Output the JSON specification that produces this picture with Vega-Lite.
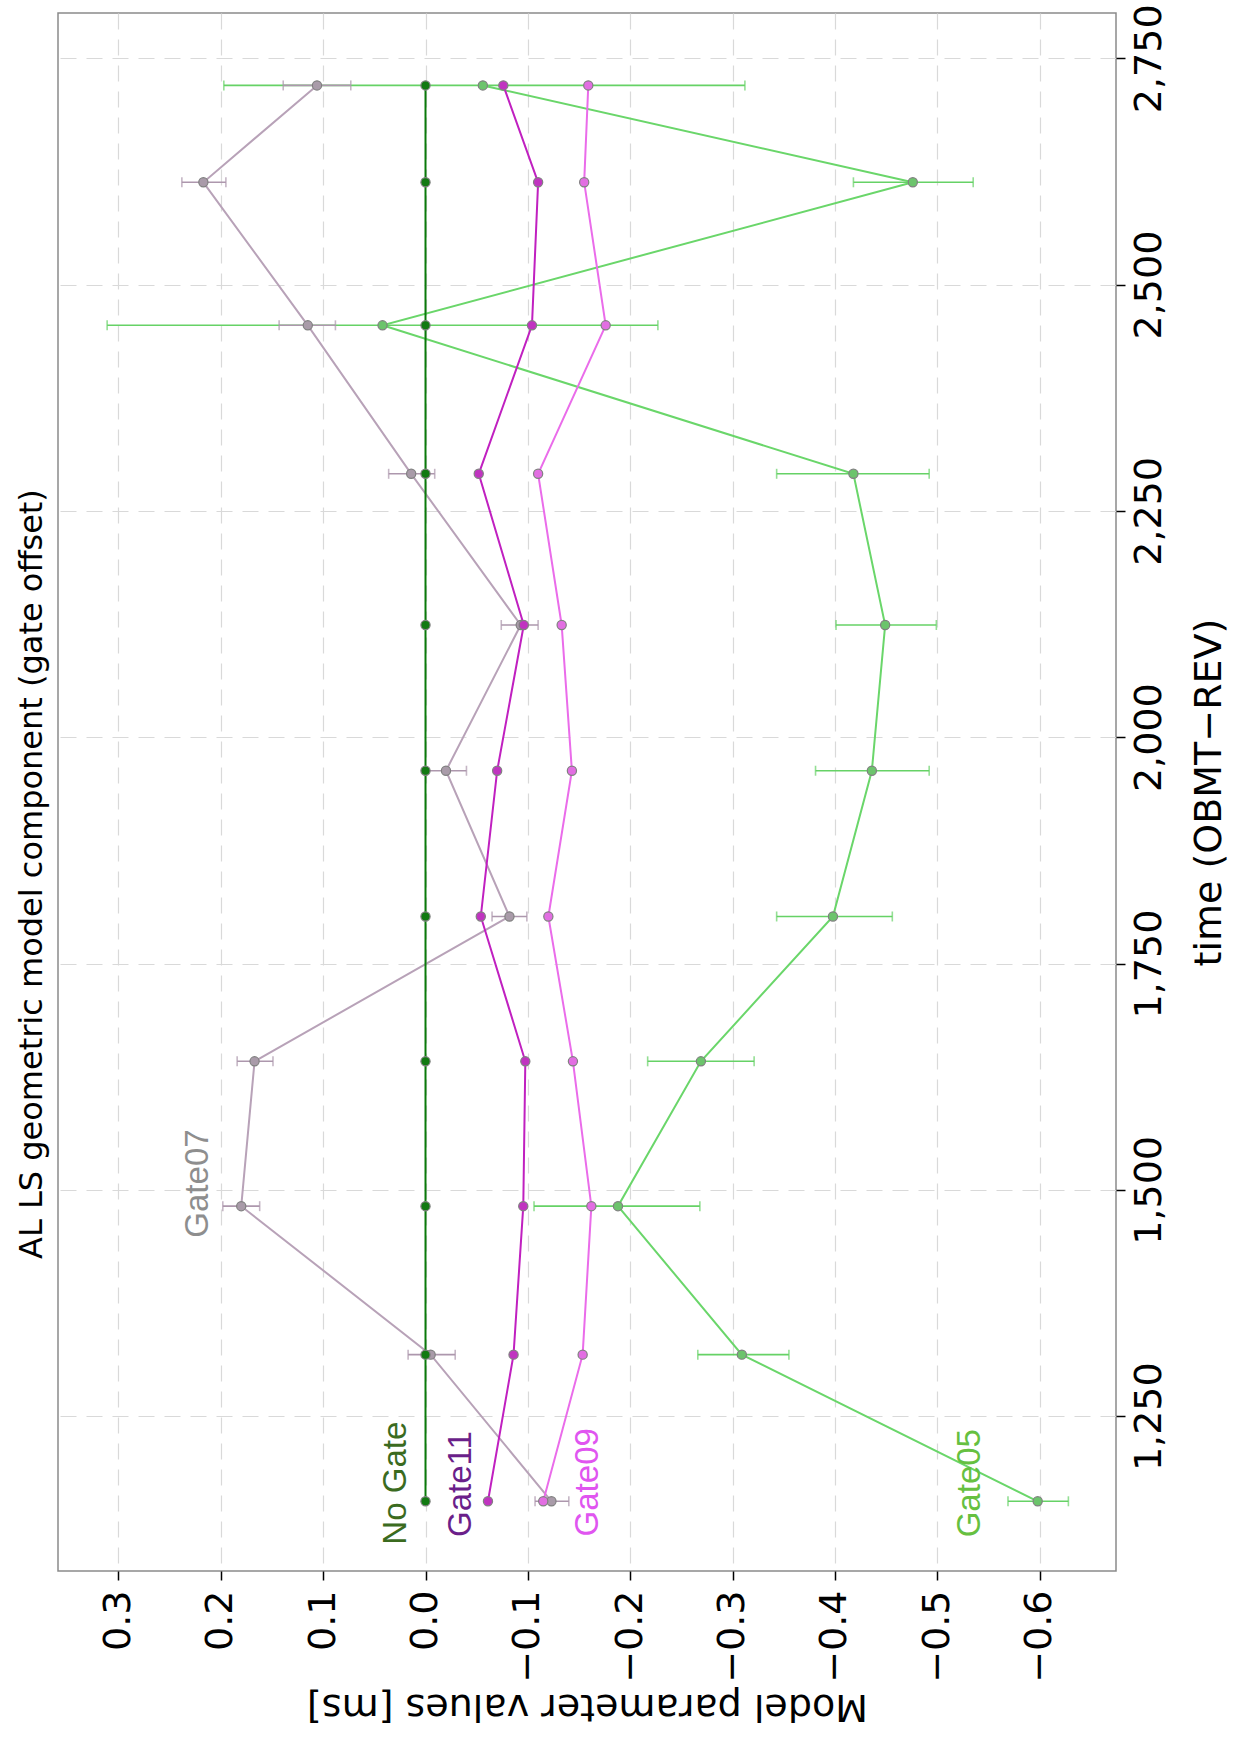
{
  "$schema": "https://vega.github.io/schema/vega-lite/v6.json",
  "width": 1058,
  "height": 1558,
  "autosize": {"type": "none"},
  "padding": {"left": 58, "top": 13, "right": 124, "bottom": 184},
  "background": "white",
  "title": {"text": "AL LS geometric model component (gate offset)", "orient": "left", "anchor": "middle", "frame": "bounds", "font": "DejaVu Sans", "fontSize": 32, "fontWeight": "normal", "color": "#000000", "offset": 9, "dx": -10},
  "config": {
    "font": "DejaVu Sans",
    "view": {"stroke": "#8a8a8a", "strokeWidth": 1.5},
    "axis": {"grid": true, "gridColor": "#d9d9d9", "gridDash": [16, 10], "gridWidth": 1.2, "domain": false, "tickColor": "#000000", "tickSize": 9, "tickWidth": 1.5, "labelFont": "DejaVu Sans", "labelFontSize": 38, "labelColor": "#000000", "titleFont": "DejaVu Sans", "titleFontSize": 38, "titleFontWeight": "normal", "titleColor": "#000000", "labelOverlap": false, "labelFlush": false}
  },
  "datasets": {
    "pts": [
      {"series": "Gate05", "time": 1156, "value": -0.598, "lo": -0.628, "hi": -0.569},
      {"series": "Gate05", "time": 1318, "value": -0.309, "lo": -0.355, "hi": -0.266},
      {"series": "Gate05", "time": 1482, "value": -0.188, "lo": -0.268, "hi": -0.106},
      {"series": "Gate05", "time": 1642, "value": -0.269, "lo": -0.321, "hi": -0.217},
      {"series": "Gate05", "time": 1802, "value": -0.398, "lo": -0.456, "hi": -0.343},
      {"series": "Gate05", "time": 1963, "value": -0.436, "lo": -0.492, "hi": -0.381},
      {"series": "Gate05", "time": 2124, "value": -0.449, "lo": -0.499, "hi": -0.401},
      {"series": "Gate05", "time": 2291, "value": -0.418, "lo": -0.492, "hi": -0.343},
      {"series": "Gate05", "time": 2455, "value": 0.042, "lo": -0.227, "hi": 0.311},
      {"series": "Gate05", "time": 2613, "value": -0.476, "lo": -0.535, "hi": -0.418},
      {"series": "Gate05", "time": 2720, "value": -0.056, "lo": -0.312, "hi": 0.197},
      {"series": "Gate07", "time": 1156, "value": -0.123, "lo": -0.140, "hi": -0.107},
      {"series": "Gate07", "time": 1318, "value": -0.005, "lo": -0.029, "hi": 0.017},
      {"series": "Gate07", "time": 1482, "value": 0.180, "lo": 0.162, "hi": 0.198},
      {"series": "Gate07", "time": 1642, "value": 0.167, "lo": 0.149, "hi": 0.184},
      {"series": "Gate07", "time": 1802, "value": -0.082, "lo": -0.099, "hi": -0.065},
      {"series": "Gate07", "time": 1963, "value": -0.020, "lo": -0.040, "hi": 0.000},
      {"series": "Gate07", "time": 2124, "value": -0.093, "lo": -0.110, "hi": -0.074},
      {"series": "Gate07", "time": 2291, "value": 0.014, "lo": -0.009, "hi": 0.036},
      {"series": "Gate07", "time": 2455, "value": 0.115, "lo": 0.088, "hi": 0.143},
      {"series": "Gate07", "time": 2613, "value": 0.217, "lo": 0.195, "hi": 0.238},
      {"series": "Gate07", "time": 2720, "value": 0.106, "lo": 0.073, "hi": 0.139},
      {"series": "Gate09", "time": 1156, "value": -0.115},
      {"series": "Gate09", "time": 1318, "value": -0.1535},
      {"series": "Gate09", "time": 1482, "value": -0.162},
      {"series": "Gate09", "time": 1642, "value": -0.144},
      {"series": "Gate09", "time": 1802, "value": -0.120},
      {"series": "Gate09", "time": 1963, "value": -0.143},
      {"series": "Gate09", "time": 2124, "value": -0.133},
      {"series": "Gate09", "time": 2291, "value": -0.110},
      {"series": "Gate09", "time": 2455, "value": -0.176},
      {"series": "Gate09", "time": 2613, "value": -0.155},
      {"series": "Gate09", "time": 2720, "value": -0.159},
      {"series": "Gate11", "time": 1156, "value": -0.061},
      {"series": "Gate11", "time": 1318, "value": -0.086},
      {"series": "Gate11", "time": 1482, "value": -0.0955},
      {"series": "Gate11", "time": 1642, "value": -0.0975},
      {"series": "Gate11", "time": 1802, "value": -0.054},
      {"series": "Gate11", "time": 1963, "value": -0.070},
      {"series": "Gate11", "time": 2124, "value": -0.096},
      {"series": "Gate11", "time": 2291, "value": -0.052},
      {"series": "Gate11", "time": 2455, "value": -0.104},
      {"series": "Gate11", "time": 2613, "value": -0.110},
      {"series": "Gate11", "time": 2720, "value": -0.076},
      {"series": "No Gate", "time": 1156, "value": 0.0},
      {"series": "No Gate", "time": 1318, "value": 0.0},
      {"series": "No Gate", "time": 1482, "value": 0.0},
      {"series": "No Gate", "time": 1642, "value": 0.0},
      {"series": "No Gate", "time": 1802, "value": 0.0},
      {"series": "No Gate", "time": 1963, "value": 0.0},
      {"series": "No Gate", "time": 2124, "value": 0.0},
      {"series": "No Gate", "time": 2291, "value": 0.0},
      {"series": "No Gate", "time": 2455, "value": 0.0},
      {"series": "No Gate", "time": 2613, "value": 0.0},
      {"series": "No Gate", "time": 2720, "value": 0.0}
    ],
    "lbl": [
      {"series": "Gate07", "time": 1507, "value": 0.222, "text": "Gate07"},
      {"series": "No Gate", "time": 1176, "value": 0.029, "text": "No Gate"},
      {"series": "Gate11", "time": 1175, "value": -0.035, "text": "Gate11"},
      {"series": "Gate09", "time": 1177, "value": -0.159, "text": "Gate09"},
      {"series": "Gate05", "time": 1176, "value": -0.532, "text": "Gate05"}
    ]
  },
  "encoding": {
    "x": {"field": "value", "type": "quantitative", "title": "Model parameter values [ms]",
      "scale": {"domain": [0.359, -0.6745], "nice": false, "zero": false},
      "axis": {"values": [0.3, 0.2, 0.1, 0.0, -0.1, -0.2, -0.3, -0.4, -0.5, -0.6], "format": ".1f", "labelAngle": 270, "labelAlign": "right", "labelBaseline": "middle", "labelPadding": 10, "titleAngle": 180, "titlePadding": 42}},
    "y": {"field": "time", "type": "quantitative", "title": "time (OBMT\u2212REV)",
      "scale": {"domain": [1079, 2800], "nice": false, "zero": false},
      "axis": {"orient": "right", "values": [1250, 1500, 1750, 2000, 2250, 2500, 2750], "format": ",.0f", "labelAngle": 270, "labelAlign": "center", "labelBaseline": "top", "labelPadding": 5, "titleAngle": 270, "titlePadding": 60}}
  },
  "resolve": {"scale": {"color": "independent"}},
  "layer": [
    {
      "data": {"name": "pts"},
      "transform": [{"filter": "isValid(datum.lo)"}],
      "mark": {"type": "rule", "strokeWidth": 1.6},
      "encoding": {
        "x": {"field": "lo", "type": "quantitative", "title": "Model parameter values [ms]"},
        "x2": {"field": "hi"},
        "color": {"field": "series", "type": "nominal", "legend": null, "scale": {"domain": ["Gate05", "Gate07"], "range": ["#66d266", "#ad97ad"]}}
      }
    },
    {
      "data": {"name": "pts"},
      "transform": [{"filter": "isValid(datum.lo)"}],
      "mark": {"type": "tick", "orient": "vertical", "size": 10, "thickness": 1.6},
      "encoding": {
        "x": {"field": "lo", "type": "quantitative", "title": "Model parameter values [ms]"},
        "color": {"field": "series", "type": "nominal", "legend": null, "scale": {"domain": ["Gate05", "Gate07"], "range": ["#66d266", "#ad97ad"]}}
      }
    },
    {
      "data": {"name": "pts"},
      "transform": [{"filter": "isValid(datum.hi)"}],
      "mark": {"type": "tick", "orient": "vertical", "size": 10, "thickness": 1.6},
      "encoding": {
        "x": {"field": "hi", "type": "quantitative", "title": "Model parameter values [ms]"},
        "color": {"field": "series", "type": "nominal", "legend": null, "scale": {"domain": ["Gate05", "Gate07"], "range": ["#66d266", "#ad97ad"]}}
      }
    },
    {
      "data": {"name": "pts"},
      "mark": {"type": "line", "strokeWidth": 2},
      "encoding": {
        "order": {"field": "time", "type": "quantitative"},
        "color": {"field": "series", "type": "nominal", "legend": null, "scale": {"domain": ["Gate05", "Gate07", "Gate09", "Gate11", "No Gate"], "range": ["#6ad66a", "#b8a2b8", "#ea6cea", "#c020c0", "#0a7a0a"]}}
      }
    },
    {
      "data": {"name": "pts"},
      "mark": {"type": "point", "filled": true, "size": 85, "stroke": "#808080", "strokeWidth": 1.2, "opacity": 1},
      "encoding": {
        "color": {"field": "series", "type": "nominal", "legend": null, "scale": {"domain": ["Gate05", "Gate07", "Gate09", "Gate11", "No Gate"], "range": ["#6cc46c", "#a99ba9", "#e26ee2", "#c034c0", "#127a12"]}}
      }
    },
    {
      "data": {"name": "lbl"},
      "mark": {"type": "text", "angle": 270, "align": "center", "baseline": "middle", "font": "Liberation Sans", "fontSize": 33},
      "encoding": {
        "text": {"field": "text"},
        "color": {"field": "series", "type": "nominal", "legend": null, "scale": {"domain": ["Gate05", "Gate07", "Gate09", "Gate11", "No Gate"], "range": ["#66c040", "#8e8e8e", "#e055f0", "#6b1f8a", "#3b6b1f"]}}
      }
    }
  ]
}
